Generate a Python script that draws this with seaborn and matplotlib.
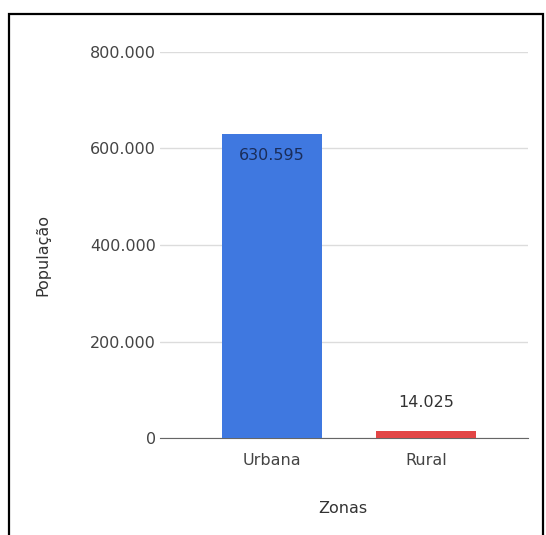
import seaborn as sns
import matplotlib.pyplot as plt
import pandas as pd
from matplotlib.patches import Rectangle
from matplotlib.ticker import FuncFormatter

zonas = ['Urbana', 'Rural']
populacao = [630595, 14025]
cores = ['#3F78E0', '#E24545']
rotulos = ['630.595', '14.025']

sns.set_style('white')
plt.rcParams['font.family'] = ['DejaVu Sans']

df = pd.DataFrame({'Zonas': zonas, 'População': populacao})

fig = plt.figure(figsize=(5.46, 5.35), dpi=100)
ax = fig.add_axes([0.293, 0.181, 0.674, 0.722])
sns.barplot(data=df, x='Zonas', y='População', hue='Zonas', palette=cores,
            width=0.65, saturation=1, linewidth=0, legend=False, ax=ax, zorder=3)

ax.set_ylim(0, 800000)
ax.set_xlim(-0.727, 1.66)
ax.set_yticks([0, 200000, 400000, 600000, 800000])
ax.yaxis.set_major_formatter(FuncFormatter(lambda v, p: f'{int(v):,}'.replace(',', '.')))
ax.grid(axis='y', color='#dcdcdc', linewidth=1, zorder=0)
for s in ['top', 'right', 'left']:
    ax.spines[s].set_visible(False)
ax.spines['bottom'].set_color('#666666')
ax.tick_params(axis='both', length=0, labelsize=11.5, labelcolor='#444444')
ax.tick_params(axis='y', pad=3)
ax.tick_params(axis='x', pad=11)

ax.set_xlabel('Zonas', fontsize=11.5, color='#333333')
ax.set_ylabel('População', fontsize=11.5, color='#333333')
ax.xaxis.set_label_coords(0.497, -0.181)
ax.xaxis.label.set_va('center')
ax.yaxis.set_label_coords(-0.318, 0.474)
ax.yaxis.label.set_va('center')

# valores
ax.text(0, populacao[0] - 46000, rotulos[0], ha='center', va='center',
        fontsize=11.5, color='#1a2d5a', zorder=4)
ax.text(1, populacao[1] + 60000, rotulos[1], ha='center', va='center',
        fontsize=11.5, color='#333333', zorder=4)

# moldura
fig.patches.append(Rectangle((9 / 546, -0.01), 534 / 546, 1 - 14 / 535 + 0.01,
                             transform=fig.transFigure, fill=False,
                             edgecolor='black', linewidth=1.6))

fig.savefig('out.png', dpi=100)
